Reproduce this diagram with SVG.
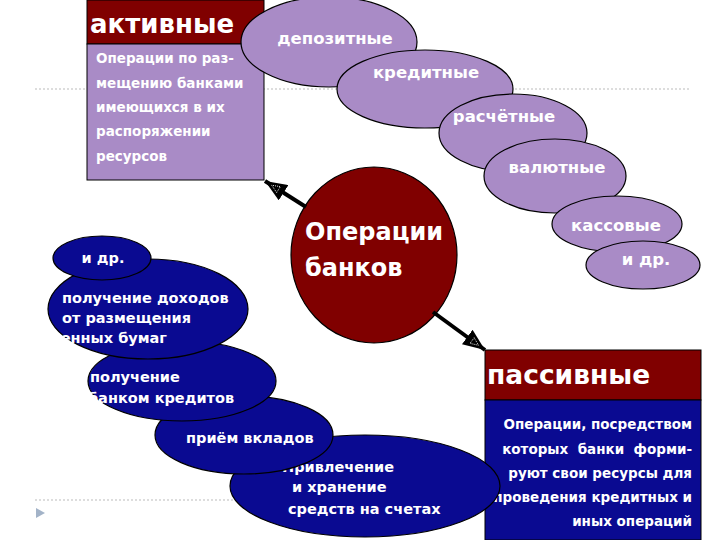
<svg xmlns="http://www.w3.org/2000/svg" width="720" height="540" viewBox="0 0 720 540">
<defs>
<style>
.t{font-family:"DejaVu Sans","Open Sans",sans-serif;font-weight:bold;fill:#fff}
.pe{fill:#A98BC6;stroke:#000;stroke-width:1.2}
.be{fill:#0A0A91;stroke:#000;stroke-width:1.2}
.dot{stroke:#BBBBBB;stroke-width:1.2;stroke-dasharray:2,2;fill:none}
.big{font-size:26px}
.hd{font-size:16.5px}
.bd{font-size:13.5px}
.bl{font-size:14.5px}
</style>
<marker id="ah" markerUnits="userSpaceOnUse" viewBox="0 0 22 18" refX="22" refY="9" markerWidth="22" markerHeight="18" orient="auto">
<path d="M0,0 L22,9 L0,18 z" fill="#000"/>
<path d="M6,5.5 L14,9 L6,12.5 z" fill="none" stroke="#fff" stroke-width="0.8" stroke-dasharray="1,1"/>
</marker>
<clipPath id="cl1"><rect x="61" y="320" width="200" height="30"/></clipPath>
</defs>
<rect width="720" height="540" fill="#fff"/>
<line class="dot" x1="35" y1="89" x2="690" y2="89"/>
<line class="dot" x1="35" y1="500" x2="690" y2="500"/>
<path d="M36,508 L45,513 L36,518 z" fill="#A3B3C8"/>

<g id="aktivnye">
<rect x="87" y="0" width="177" height="44" fill="#800000" stroke="#000" stroke-width="1"/>
<rect x="87" y="44" width="177" height="136" fill="#A98BC6" stroke="#000" stroke-width="1"/>
<text class="t big" x="90" y="33">активные</text>
<text class="t bd" x="96" y="63">Операции по раз-</text>
<text class="t bd" x="96" y="88">мещению банками</text>
<text class="t bd" x="96" y="112">имеющихся в их</text>
<text class="t bd" x="96" y="136">распоряжении</text>
<text class="t bd" x="96" y="161">ресурсов</text>
</g>

<g id="depozitnye"><ellipse class="pe" cx="329" cy="42" rx="88" ry="45"/><text class="t hd" x="335" y="44" text-anchor="middle">депозитные</text></g>
<g id="kreditnye"><ellipse class="pe" cx="425" cy="89" rx="88" ry="39"/><text class="t hd" x="426" y="78" text-anchor="middle">кредитные</text></g>
<g id="raschetnye"><ellipse class="pe" cx="513" cy="133" rx="74" ry="39"/><text class="t hd" x="504" y="122" text-anchor="middle">расчётные</text></g>
<g id="valyutnye"><ellipse class="pe" cx="555" cy="176" rx="71" ry="37"/><text class="t hd" x="557" y="173" text-anchor="middle">валютные</text></g>
<g id="kassovye"><ellipse class="pe" cx="617" cy="224" rx="65" ry="28"/><text class="t hd" x="616" y="231" text-anchor="middle">кассовые</text></g>
<g id="i-dr-1"><ellipse class="pe" cx="643" cy="265" rx="57" ry="24"/><text class="t hd" x="646" y="265" text-anchor="middle">и др.</text></g>

<g id="operatsii">
<ellipse cx="374" cy="255" rx="83" ry="88" fill="#800000" stroke="#000" stroke-width="1.2"/>
<text class="t" font-size="24" x="305" y="240">Операции</text>
<text class="t" font-size="24" x="305" y="276">банков</text>
</g>

<g id="passivnye">
<rect x="485" y="350" width="216" height="50" fill="#800000" stroke="#000" stroke-width="1"/>
<rect x="485" y="400" width="216" height="140" fill="#0A0A91" stroke="#000" stroke-width="1"/>
<text class="t" font-size="26.5" x="487" y="384">пассивные</text>
<g class="t bd" text-anchor="end">
<text x="692" y="429">Операции, посредством</text>
<text x="692" y="454" xml:space="preserve">которых  банки  форми-</text>
<text x="692" y="478">руют свои ресурсы для</text>
<text x="692" y="502">проведения кредитных и</text>
<text x="692" y="526">иных операций</text>
</g>
</g>

<g id="privlechenie"><ellipse class="be" cx="365" cy="486" rx="135" ry="51"/>
<text class="t bl" x="282" y="472">Привлечение</text>
<text class="t bl" x="292" y="492">и хранение</text>
<text class="t bl" x="288" y="514">средств на счетах</text></g>
<g id="priem"><ellipse class="be" cx="244" cy="435" rx="89" ry="39"/><text class="t bl" x="186" y="443">приём вкладов</text></g>
<g id="poluchenie-kreditov"><ellipse class="be" cx="182" cy="381" rx="94" ry="40"/>
<text class="t bl" x="90" y="382">получение</text>
<text class="t bl" x="88" y="403">банком кредитов</text></g>
<g id="poluchenie-dohodov"><ellipse class="be" cx="148" cy="309" rx="100" ry="50"/>
<text class="t bl" x="62" y="303">получение доходов</text>
<text class="t bl" x="62" y="323">от размещения</text>
<text class="t bl" x="50" y="343" clip-path="url(#cl1)">ценных бумаг</text></g>
<g id="i-dr-2"><ellipse class="be" cx="102" cy="258" rx="49" ry="22"/><text class="t bl" x="103" y="263" text-anchor="middle">и др.</text></g>

<g id="connectors" stroke="#000" stroke-width="4" fill="none">
<line x1="306" y1="207" x2="265" y2="181" marker-end="url(#ah)"/>
<line x1="433" y1="312" x2="485" y2="350" marker-end="url(#ah)"/>
</g>
</svg>
